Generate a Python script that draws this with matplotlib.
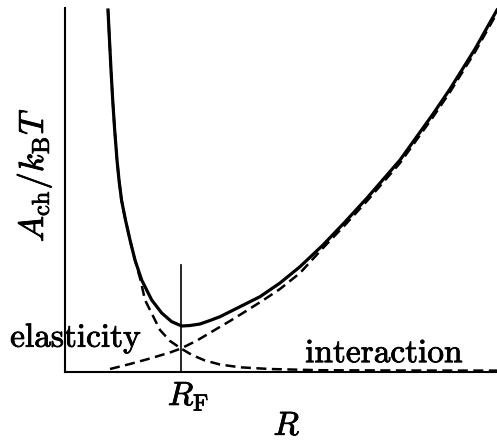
"""Free energy of a chain vs size: elasticity + interaction terms."""
import matplotlib
matplotlib.use('Agg')
import matplotlib.pyplot as plt
import matplotlib.patheffects as pe

plt.rcParams['mathtext.fontset'] = 'cm'

# total free energy (solid curve), sampled along R
total_R = [0.995, 1.030, 1.065, 1.104, 1.150, 1.204, 1.250, 1.308, 1.400, 1.505,
           1.620, 1.775, 2.007, 2.238, 2.470, 2.701, 2.894, 3.125, 3.356, 3.588,
           4.051, 4.514, 4.977, 5.440, 5.972, 6.481, 6.991, 7.755, 8.519, 8.912,
           9.491, 10.0]
total_A = [9.945, 9.121, 8.297, 7.473, 6.648, 5.824, 5.275, 4.725, 4.176, 3.626,
           3.077, 2.527, 1.978, 1.621, 1.382, 1.264, 1.277, 1.319, 1.415, 1.519,
           1.794, 2.069, 2.445, 2.893, 3.489, 4.121, 4.780, 5.824, 7.088, 7.775,
           8.874, 9.945]

# elastic contribution (dashed, rising)
elastic_R = [1.042, 1.505, 1.968, 2.431, 2.685, 3.056, 3.426, 3.819, 4.213, 4.630,
             4.977, 5.440, 5.972, 6.481, 6.991, 7.755, 8.519, 8.912, 9.491, 10.0]
elastic_A = [0.082, 0.220, 0.371, 0.536, 0.646, 0.865, 1.126, 1.401, 1.690, 2.005,
             2.280, 2.720, 3.407, 4.038, 4.698, 5.742, 7.005, 7.692, 8.791, 9.863]

# interaction contribution (dashed, decaying)
inter_R = [0.995, 1.030, 1.065, 1.104, 1.150, 1.204, 1.250, 1.308, 1.400, 1.505,
           1.620, 1.748, 1.852, 2.083, 2.199, 2.431, 2.685, 2.940, 3.241, 3.588,
           4.051, 4.745, 5.903, 7.755, 10.0]
inter_A = [9.945, 9.121, 8.297, 7.473, 6.648, 5.824, 5.275, 4.725, 4.176, 3.626,
           3.077, 2.527, 1.978, 1.429, 1.154, 0.852, 0.646, 0.467, 0.316, 0.206,
           0.129, 0.082, 0.049, 0.041, 0.038]

R_F = 2.69
R_F_height = 2.94

fig = plt.figure(figsize=(4.97, 4.43), dpi=100)
ax = fig.add_axes([65 / 497, 71 / 443, 432 / 497, 364 / 443])
ax.set_xlim(0, 10)
ax.set_ylim(0, 10)

for side in ('top', 'right'):
    ax.spines[side].set_visible(False)
for side in ('left', 'bottom'):
    ax.spines[side].set_linewidth(1.5)
    ax.spines[side].set_color('black')
ax.set_xticks([])
ax.set_yticks([])

ax.plot(total_R, total_A, color='black', lw=2.3, clip_on=False)
ax.plot(elastic_R, elastic_A, color='black', lw=1.8, ls=(0, (4, 2.2)), clip_on=False)
ax.plot(inter_R, inter_A, color='black', lw=1.8, ls=(0, (4, 2.2)), clip_on=False)
ax.plot([R_F, R_F], [0, R_F_height], color='black', lw=1.2)

# slightly heavier glyphs, like the printed original
heavy = [pe.withStroke(linewidth=0.6, foreground='black')]
fs = 24
ax.text(-1.27, 0.69, r'$\mathrm{elasticity}$', fontsize=fs, ha='left', va='baseline',
        path_effects=heavy)
ax.text(5.56, 0.27, r'$\mathrm{interaction}$', fontsize=fs, ha='left', va='baseline',
        path_effects=heavy)
ax.text(2.86, -0.91, r'$R_{\mathrm{F}}$', fontsize=fs, ha='center', va='baseline',
        path_effects=heavy)
ax.text(5.14, -1.73, r'$R$', fontsize=fs, ha='center', va='baseline',
        path_effects=heavy)
ax.text(-0.72, 5.41, r'$A_{\mathrm{ch}}/k_{\mathrm{B}}T$', fontsize=25, rotation=90,
        ha='center', va='center', path_effects=heavy)

fig.savefig('out.png', dpi=100, facecolor='white')
